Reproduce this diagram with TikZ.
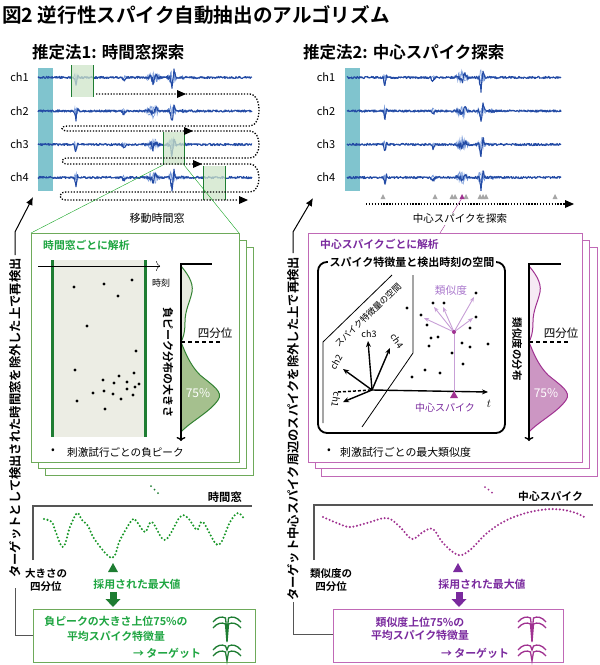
\documentclass[tikz,border=0pt]{standalone}
\usepackage{fontspec}
\setmainfont{Noto Sans CJK JP}[BoldFont={Noto Sans CJK JP Bold}]
\usetikzlibrary{arrows.meta}
\definecolor{trblue}{RGB}{35,75,165}
\definecolor{trlite}{RGB}{115,150,215}
\definecolor{cyanbar}{RGB}{128,196,206}
\definecolor{gwin}{RGB}{205,228,200}
\definecolor{gdark}{RGB}{30,125,50}
\definecolor{gtext}{RGB}{30,165,65}
\definecolor{gbox}{RGB}{110,170,90}
\definecolor{gscat}{RGB}{236,237,228}
\definecolor{gdlow}{RGB}{165,192,142}
\definecolor{gdup}{RGB}{232,235,224}
\definecolor{gout}{RGB}{50,130,50}
\definecolor{ptext}{RGB}{122,42,158}
\definecolor{pbox}{RGB}{192,105,182}
\definecolor{pcurve}{RGB}{160,50,145}
\definecolor{plite}{RGB}{200,160,215}
\definecolor{plabel}{RGB}{170,120,205}
\definecolor{pdlow}{RGB}{204,150,195}
\definecolor{pdup}{RGB}{246,234,244}
\definecolor{axgray}{RGB}{85,85,85}
\newcommand{\fsz}[1]{\fontsize{#1}{#1}\selectfont}
\newcommand{\sigtrace}[3]{%
  \draw[trlight] plot[domain=20:160,samples=200] ({#1+\x},{#2+#3*6*env(\x)*rand});
  \draw[trlight] plot[domain=20:160,samples=200] ({#1+\x},{#2+#3*6*env(\x)*rand});
  \draw[trmain] plot[domain=0:214,samples=429] ({#1+\x},{#2+1.1*rand+#3*dip(\x)+#3*2.5*env(\x)*rand});
}
\newcommand{\rtri}[2]{\fill (#1-4,#2-4) -- (#1+5,#2) -- (#1-4,#2+4) -- cycle;}
\newcommand{\gtri}[2]{\fill[gray!70] (#1-2.5,#2+2) -- (#1,#2-3) -- (#1+2.5,#2+2) -- cycle;}
\newcommand{\spwave}[4]{\draw[#4,line width=1.3pt] (#1,#2+5) .. controls (#1+4,#2) and (#1+9,#2-1) .. (#1+12.5,#2+1) -- (#1+14,#2+#3) -- (#1+15.5,#2+1) .. controls (#1+19,#2-1) and (#1+24,#2) .. (#1+28,#2+5);}
\begin{document}
\pgfmathsetseed{7}
\begin{tikzpicture}[x=1pt,y=-1pt,
  declare function={
    win(\a,\b,\c)=max(0,1-abs(\a-\b)/\c);
    dip(\t)=8*win(\t,38,1.8)-3*win(\t,39.5,1.5)+3*win(\t,86,2.5)+4*win(\t,115,2)-3*win(\t,118,2)+12*win(\t,134,2)-7*win(\t,136,1.8);
    env(\t)=win(\t,38,3)+0.5*win(\t,86,4)+1.3*win(\t,115,9)+1.3*win(\t,134,6)+0.4*win(\t,145,5);
  },
  trmain/.style={trblue,line width=1.1pt,line join=round},
  trlight/.style={trlite,line width=0.5pt},
  dotpath/.style={line width=1.3pt,dash pattern=on 1.3pt off 1.6pt},
  gcurve/.style={gdark!80!green,line width=2.3pt,dash pattern=on 0pt off 3.6pt,line cap=round},
  pcurvest/.style={pcurve,line width=2.3pt,dash pattern=on 0pt off 3.6pt,line cap=round},
  bt/.style={inner sep=0pt,font=\bfseries\fsz{#1}},
  nt/.style={inner sep=0pt,font=\fsz{#1}},
  axarr/.style={line width=1.4pt,-{Stealth[length=6pt,width=5pt]}},
]
\useasboundingbox (0,0) rectangle (600,665);
% titles
\node[bt=19.6,anchor=west] (title) at (2,15) {図2 逆行性スパイク自動抽出のアルゴリズム};
\node[bt=16.5,anchor=west] (sub1) at (32,52) {推定法1: 時間窓探索};
\node[bt=16.5,anchor=west] (sub2) at (303,52) {推定法2: 中心スパイク探索};

%%%%%%%%%%%% LEFT PANEL
\fill[cyanbar] (38,68) rectangle (53,191);
\foreach \yy/\n in {77.5/1,111/2,144.5/3,177.5/4}{
  \node[nt=11] (lch\n) at (19.5,\yy) {ch\n};
  \sigtrace{38}{\yy}{1}
}
% windows
\fill[gwin,opacity=.75] (71,65) rectangle (93,97);
\draw[gdark] (71,65)--(71,97) (93,65)--(93,97);
\fill[gwin,opacity=.75] (163,132) rectangle (184,165);
\draw[gdark] (163,132)--(163,165) (184,132)--(184,165);
\fill[gwin,opacity=.75] (203,166) rectangle (225,200);
\draw[gdark] (203,166)--(203,200) (225,166)--(225,200);
% serpentine
\draw[dotpath] (96,94) -- (250,94) .. controls (262,94) and (262,126) .. (250,126) -- (68,126) .. controls (60,126) and (60,131) .. (68,131) -- (250,131) .. controls (262,131) and (262,158) .. (250,158) -- (68,158) .. controls (60,158) and (60,164) .. (68,164) -- (250,164) .. controls (262,164) and (262,192) .. (250,192) -- (66,192) .. controls (58,192) and (58,200) .. (66,200) -- (238,200);
\rtri{181}{94}\rtri{188}{131}\rtri{197}{164}\rtri{243}{200}
% zoom lines
\coordinate (wl) at (163,165); \coordinate (wr) at (184,165);
\coordinate (bl) at (31,233); \coordinate (br) at (239,233);
\draw[gdark!70!green] (wl) -- (bl); \draw[gdark!70!green] (wr) -- (br);
\node[nt=11] (movw) at (157,218) {移動時間窓};
% stacked boxes
\draw[gbox,fill=white] (45,247) rectangle (253,475);
\draw[gbox,fill=white] (38,240) rectangle (246,468);
\draw[gbox,fill=white] (31,233) rectangle (239,462);
\node[bt=10.8,anchor=west,text=gtext] (gan) at (43,245) {時間窓ごとに解析};
\fill[gscat] (52,260) rectangle (145,437);
\draw[gdark,line width=3pt] (52,260) -- (52,437) (145,260) -- (145,437);
\draw[-{To[length=4pt,width=10pt]}] (38,266) -- (160,266);
\node[nt=9] (jik) at (161,283) {時刻};
\foreach \p in {(74,287),(104,284),(132,280),(118,296),(87,326),(136,351),(75,370),(134,373),(119,376),(103,380),(114,383),(127,382),(139,384),(127,389),(135,387),(93,393),(104,391),(113,394),(133,395),(121,399),(77,401),(105,409)}
  \fill \p circle (1.7);
% distribution left
\filldraw[fill=gdup,draw=gout,line width=1pt] (181,266) .. controls (186,272) and (194,282) .. (192,292) .. controls (190,302) and (185,310) .. (185,322) .. controls (185,333) and (183,338) .. (181,342) -- cycle;
\filldraw[fill=gdlow,draw=gout,line width=1pt] (181,342) .. controls (185,352) and (190,365) .. (200,375) .. controls (212,385) and (224,392) .. (218,400) .. controls (210,412) and (190,422) .. (181,432) -- cycle;
\draw[line width=1.5pt] (180,264) -- (212,264);
\draw[line width=1.4pt,-{To[length=4pt,width=9pt]}] (181,264) -- (181,441);
\draw[line width=1.3pt,dash pattern=on 4pt off 3pt] (181,342) -- (222,342);
\node[nt=11.5] (q1) at (215,333) {四分位};
\node[nt=12,text=white] (p1) at (198,393) {75\%};
\node[bt=11,rotate=-90] (negd) at (168,362) {負ピーク分布の大きさ};
\node[nt=11] (bul1) at (53,451) {•};
\node[nt=10.6,anchor=west] (leg1) at (67,452) {刺激試行ごとの負ピーク};
\fill[gdark] (151,486) circle (1) (154.5,489.5) circle (1) (158,493) circle (1);
% chart left
\draw[axgray,line width=1.5pt] (33,560) -- (33,506) -- (252,506);
\node[bt=11.3,anchor=east] (tw) at (242,497) {時間窓};
\draw[gcurve] plot[smooth,tension=0.6] coordinates {(44,519)(52,522)(55,530)(63,547)(70,527)(77,513)(82,520)(88,526)(95,540)(112,558)(120,540)(132,520)(137,522)(145,532)(152,522)(165,540)(180,517)(188,518)(197,530)(203,522)(218,545)(230,522)(238,513)(245,520)};
\fill[gdark] (108,572) -- (113,563) -- (118,572) -- cycle;
\node[bt=10.9,text=gtext] (adopt1) at (137,584) {採用された最大値};
\fill[gdark] (109.5,592) rectangle (116.5,599);
\fill[gdark] (105.5,599) -- (120.5,599) -- (113,607) -- cycle;
\node[bt=10.5,align=center] (ql1) at (46,580) {大きさの\\[2pt]四分位};
\node[draw=gbox,line width=1pt,minimum width=222pt,minimum height=53pt,inner sep=0pt] (gbot) at (144,635.5) {};
\node[bt=10.9,text=gtext] (gb1) at (116,621) {負ピークの大きさ上位75\%の};
\node[bt=10.9,text=gtext] (gb2) at (116,636) {平均スパイク特徴量};
\node[bt=10.9,text=gtext] (gb3) at (167,653) {→ ターゲット};
\spwave{213}{617}{15}{gdark}
\spwave{213}{623}{19}{gdark}
\spwave{213}{645}{5}{gdark}
\spwave{213}{651}{10}{gdark}
% left loop
\node[bt=12.3,rotate=90] (vl) at (15,418) {ターゲットとして検出された時間窓を除外した上で再検出};
\coordinate (la) at (15,255); \coordinate (lb) at (15,232); \coordinate (lc) at (33,197);
\draw[line width=1pt,-{Latex[length=8pt,width=7pt]}] (la) -- (lb) -- (lc);
\coordinate (ld) at (15,588);
\draw[axgray,line width=1pt] (ld) -- (15,635) -- (gbot.west |- 0,635);

%%%%%%%%%%%% RIGHT PANEL
\fill[cyanbar] (345,68) rectangle (360,191);
\foreach \yy/\n in {77.5/1,111/2,144.5/3,177.5/4}{
  \node[nt=11] (rch\n) at (326,\yy) {ch\n};
  \sigtrace{347}{\yy}{1}
}
\foreach \xx in {383,435,452,455,466,480,483,486,555} {\gtri{\xx}{197}}
\fill[pcurve] (459.5,199) -- (462,194) -- (464.5,199) -- cycle;
\draw[dotpath] (366,204) -- (566,204);
\rtri{569}{204}
\coordinate (cs) at (462,198); \coordinate (ctop) at (440,233);
\draw[pcurve] (cs) -- (ctop);
\node[nt=10.5,fill=white,inner sep=1pt] (srch) at (460,219) {中心スパイクを探索};
% stacked boxes
\draw[pbox,fill=white] (321,247) rectangle (597,476);
\draw[pbox,fill=white] (315,240) rectangle (589,468);
\draw[pbox,fill=white] (308,233) rectangle (582,462);
\node[bt=10.8,anchor=west,text=ptext] (pan) at (320,244) {中心スパイクごとに解析};
\draw[line width=1.8pt,rounded corners=9pt] (318,262) rectangle (505,433);
\node[bt=11,fill=white,inner xsep=2pt,inner ysep=1pt] (sp) at (412,262) {スパイク特徴量と検出時刻の空間};
\draw[line width=0.8pt] (323,423) -- (323,342) -- (392,275);
\draw[line width=0.8pt] (413,275) -- (413,353) -- (362,427);
\node[nt=8.8,rotate=44] (fs) at (368,315) {スパイク特徴量の空間};
\coordinate (O) at (372,390);
\draw[line width=1.5pt,dash pattern=on 3pt off 2pt] (338,392) -- (O);
\draw[axarr] (O) -- (368,341);
\draw[axarr] (O) -- (390,348);
\draw[axarr] (O) -- (343,369);
\draw[axarr] (O) -- (343,402);
\draw[axarr] (O) -- (488,392);
\node[nt=9] (c3) at (369,334) {ch3};
\node[nt=9,rotate=-55] (c4) at (397,341) {ch4};
\node[nt=9,rotate=60] (c2) at (336,362) {ch2};
\node[nt=9,rotate=-100] (c1) at (336,400) {ch1};
\node[inner sep=0pt,font=\fsz{13}] (tt) at (489,404) {$t$};
\foreach \p in {(407,308),(433,303),(444,303),(476,293),(421,315),(427,325),(470,328),(476,317),(431,338),(438,337),(429,346),(462,343),(470,347),(488,344),(452,353),(463,364),(425,370),(440,373),(412,377)}
  \fill \p circle (1.7);
\coordinate (C) at (454,332);
\foreach \e in {(424,318),(434,307),(443,307),(474,297),(473,318)}
  \draw[plite,line width=0.9pt,-{Stealth[length=5pt,width=4pt]}] (C) -- \e;
\draw[plite,line width=1pt] (C) -- (454,393);
\fill[pcurve] (C) circle (2);
\fill[pcurve] (450,398) -- (454,391) -- (458,398) -- cycle;
\node[nt=10,text=ptext] (csl) at (445,408) {中心スパイク};
\node[nt=10.7,text=plabel] (ruiji) at (451,290) {類似度};
% distribution right
\filldraw[fill=pdup,draw=pcurve,line width=1pt] (529,266) .. controls (534,272) and (542,282) .. (540,292) .. controls (538,302) and (533,310) .. (533,322) .. controls (533,333) and (531,338) .. (529,342) -- cycle;
\filldraw[fill=pdlow,draw=pcurve,line width=1pt] (529,342) .. controls (533,352) and (538,365) .. (548,375) .. controls (560,385) and (572,392) .. (566,400) .. controls (558,412) and (538,422) .. (529,432) -- cycle;
\draw[line width=1.5pt] (528,264) -- (561,264);
\draw[line width=1.4pt,-{To[length=4pt,width=9pt]}] (529,264) -- (529,441);
\draw[line width=1.3pt,dash pattern=on 4pt off 3pt] (529,342) -- (569,342);
\node[nt=11.5] (q2) at (561,333) {四分位};
\node[nt=12,text=white] (p2) at (546,393) {75\%};
\node[bt=10.5,rotate=-90] (simd) at (517,349) {類似度の分布};
\node[nt=11] (bul2) at (329,451) {•};
\node[nt=10.9,anchor=west] (leg2) at (340,452) {刺激試行ごとの最大類似度};
\fill[pcurve] (485,487) circle (1) (488.5,489.5) circle (1) (492,492.5) circle (1);
% chart right
\draw[axgray,line width=1.5pt] (314,560) -- (314,505) -- (593,505);
\node[bt=10.8,anchor=east] (csp) at (583,496) {中心スパイク};
\draw[pcurvest] plot[smooth,tension=0.6] coordinates {(323,517)(337,523)(350,527)(367,523)(387,518)(400,527)(412,539)(423,532)(433,529)(443,543)(458,555)(470,550)(487,533)(507,520)(530,512)(553,509)(573,512)(586,518)};
\fill[ptext] (453,572) -- (458,563) -- (463,572) -- cycle;
\node[bt=10.9,text=ptext] (adopt2) at (482,584) {採用された最大値};
\fill[ptext] (455.5,592) rectangle (462.5,599);
\fill[ptext] (451.5,599) -- (466.5,599) -- (459,607) -- cycle;
\node[bt=10.5,align=center] (ql2) at (331,580) {類似度の\\[2pt]四分位};
\node[draw=pbox,line width=1pt,minimum width=230pt,minimum height=53pt,inner sep=0pt] (pbot) at (448,635.5) {};
\node[bt=10.9,text=ptext] (pb1) at (420,622) {類似度上位75\%の};
\node[bt=10.9,text=ptext] (pb2) at (420,635) {平均スパイク特徴量};
\node[bt=10.9,text=ptext] (pb3) at (475,653) {→ ターゲット};
\spwave{518}{617}{15}{pcurve}
\spwave{518}{623}{19}{pcurve}
\spwave{518}{645}{5}{pcurve}
\spwave{518}{651}{10}{pcurve}
% right loop
\node[bt=12.3,rotate=90] (vr) at (293,429) {ターゲット中心スパイク周辺のスパイクを除外した上で再検出};
\coordinate (ra) at (293,253); \coordinate (rb) at (293,232); \coordinate (rc) at (313,198);
\draw[line width=1pt,-{Latex[length=8pt,width=7pt]}] (ra) -- (rb) -- (rc);
\coordinate (rd) at (293,602);
\draw[axgray,line width=1pt] (rd) -- (293,634) -- (pbot.west |- 0,634);
\end{tikzpicture}
\end{document}
